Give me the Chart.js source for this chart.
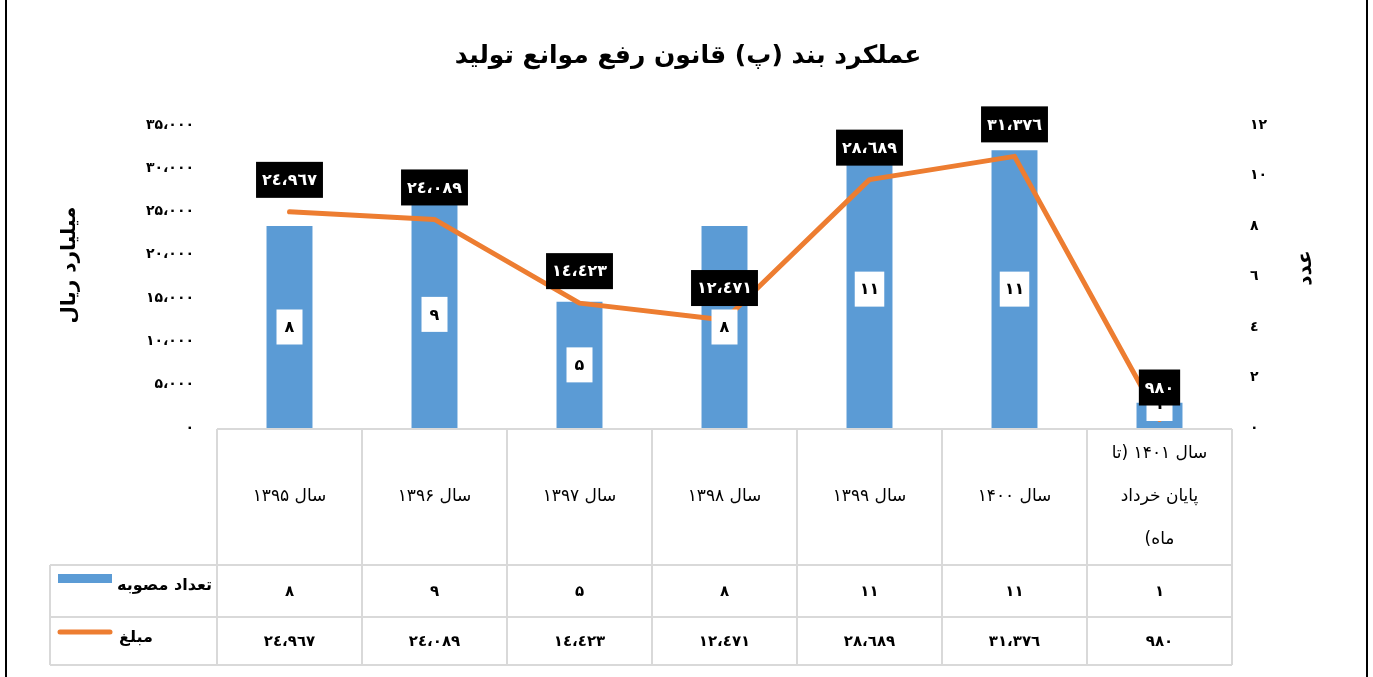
<!DOCTYPE html>
<html><head><meta charset="utf-8">
<script src="https://cdn.jsdelivr.net/npm/chart.js@4.4.0/dist/chart.umd.min.js"></script>
<style>html,body{margin:0;padding:0;background:#fff;overflow:hidden}#wrap{width:1373px;height:677px;position:relative}</style>
</head><body><div id="wrap"><canvas id="c" width="1373" height="677"></canvas></div>
<script>
const chartTitle = 'عملکرد بند (پ) قانون رفع موانع تولید';
const categories = ['سال ۱۳۹۵','سال ۱۳۹۶','سال ۱۳۹۷','سال ۱۳۹۸','سال ۱۳۹۹','سال ۱۴۰۰',['سال ۱۴۰۱ (تا','پایان خرداد','ماه)']];
const countLabel = 'تعداد مصوبه';
const amountLabel = 'مبلغ';
const counts = [8, 9, 5, 8, 11, 11, 1];
const amounts = [24967, 24089, 14423, 12471, 28689, 31376, 980];
const leftTickValues = [0, 5000, 10000, 15000, 20000, 25000, 30000, 35000];
const rightTickValues = [0, 2, 4, 6, 8, 10, 12];
const leftAxisTitle = 'میلیارد ریال';
const rightAxisTitle = 'عدد';

const DIG = ['۰','۱','۲','۳','٤','۵','٦','۷','۸','۹'];
function fa(n){
  const s = Math.round(n).toLocaleString('en-US').replace(/,/g,'،').replace(/\d/g, d => DIG[+d]);
  return '\u202D' + s + '\u202C';
}
const F = "'DejaVu Sans', sans-serif";
const BLUE = '#5B9BD5', ORANGE = '#ED7D31';

const decor = {
  id: 'decor',
  beforeDraw(chart){
    const c = chart.ctx; c.save();
    c.fillStyle = '#fff'; c.fillRect(0,0,chart.width,chart.height);
    c.fillStyle = '#000'; c.fillRect(5,0,2,chart.height); c.fillRect(1366,0,2,chart.height);
    c.restore();
  },
  afterDatasetsDraw(chart){
    const c = chart.ctx; c.save();
    c.direction = 'ltr';
    c.textAlign = 'center'; c.textBaseline = 'middle';
    c.font = 'bold 16px ' + F;
    const bm = chart.getDatasetMeta(0);
    bm.data.forEach((el, i) => {
      const t = fa(counts[i]);
      const w = Math.max(26, c.measureText(t).width + 10), h = 35;
      let cy = (el.y + el.base) / 2;
      if (cy + h/2 > el.base - 7) cy = el.base - 7 - h/2;
      c.fillStyle = '#fff'; c.fillRect(el.x - w/2, cy - h/2, w, h);
      c.fillStyle = '#000'; c.fillText(t, el.x, cy + 1);
    });
    const lm = chart.getDatasetMeta(1);
    lm.data.forEach((el, i) => {
      const t = fa(amounts[i]);
      const w = c.measureText(t).width + 12, h = 36;
      const cy = el.y - 32;
      c.fillStyle = '#000'; c.fillRect(el.x - w/2, cy - h/2, w, h);
      c.fillStyle = '#fff'; c.fillText(t, el.x, cy + 1);
    });
    c.restore();
  },
  afterDraw(chart){
    const c = chart.ctx; c.save();
    const xs = chart.scales.x, n = categories.length;
    const cw = (xs.right - xs.left) / n;
    const top = xs.top + 1, r1 = 565, r2 = 617, bot = 665, legL = 50;
    c.strokeStyle = '#d9d9d9'; c.lineWidth = 2;
    c.beginPath();
    c.moveTo(xs.left, top); c.lineTo(xs.right, top);
    [r1, r2, bot].forEach(y => { c.moveTo(legL, y); c.lineTo(xs.right, y); });
    for (let i = 0; i <= n; i++){ const x = xs.left + i*cw; c.moveTo(x, top); c.lineTo(x, bot); }
    c.moveTo(legL, r1); c.lineTo(legL, bot);
    c.stroke();
    // header labels
    c.direction = 'rtl'; c.textAlign = 'center'; c.textBaseline = 'middle';
    c.fillStyle = '#000';
    c.font = '17px ' + F;
    categories.forEach((lab, i) => {
      const x = xs.getPixelForValue(i);
      const lines = Array.isArray(lab) ? lab : [lab];
      const lh = 43, y0 = (top + r1)/2 - (lines.length - 1) * lh / 2;
      lines.forEach((ln, k) => c.fillText(ln, x, y0 + k*lh));
    });
    c.direction = 'ltr';
    c.font = 'bold 15px ' + F;
    counts.forEach((v, i) => c.fillText(fa(v), xs.getPixelForValue(i), (r1 + r2)/2 + 1));
    amounts.forEach((v, i) => c.fillText(fa(v), xs.getPixelForValue(i), (r2 + bot)/2 + 1));
    // legend keys
    c.fillStyle = BLUE; c.fillRect(58, 574, 54, 9);
    c.strokeStyle = ORANGE; c.lineWidth = 5; c.lineCap = 'round';
    c.beginPath(); c.moveTo(60, 632); c.lineTo(110, 632); c.stroke();
    c.direction = 'rtl'; c.textAlign = 'left'; c.fillStyle = '#000';
    c.font = 'bold 16px ' + F;
    c.fillText(countLabel, 117, 586);
    c.fillText(amountLabel, 119, 638);
    // title
    c.textAlign = 'center';
    c.font = 'bold 25px ' + F;
    c.fillText(chartTitle, 688, 56);
    // axis titles
    c.font = 'bold 20px ' + F;
    [[70, 265, leftAxisTitle], [1306, 268, rightAxisTitle]].forEach(([x, y, t]) => {
      c.save(); c.translate(x, y); c.rotate(-Math.PI/2); c.fillText(t, 0, 0); c.restore();
    });
    c.restore();
  }
};

new Chart(document.getElementById('c'), {
  type: 'bar',
  data: {
    labels: categories,
    datasets: [
      { type: 'bar', label: countLabel, data: counts, yAxisID: 'y1', backgroundColor: BLUE,
        barPercentage: 0.317, categoryPercentage: 1, order: 1 },
      { type: 'line', label: amountLabel, data: amounts, yAxisID: 'y', borderColor: ORANGE,
        borderWidth: 5, pointRadius: 0, tension: 0, borderCapStyle: 'round', borderJoinStyle: 'round', order: 0 }
    ]
  },
  options: {
    responsive: false, animation: false, devicePixelRatio: 1,
    layout: { padding: { top: 125, left: 0, right: 0, bottom: 0 } },
    plugins: { legend: { display: false }, tooltip: { enabled: false }, title: { display: false } },
    scales: {
      x: { display: true, ticks: { display: false }, grid: { display: false, drawTicks: false }, border: { display: false },
           afterFit: s => { s.height = 249; } },
      y: { position: 'left', min: 0, max: 35000,
           afterBuildTicks: s => { s.ticks = leftTickValues.map(v => ({ value: v })); },
           ticks: { callback: v => fa(v), font: { family: F, size: 14, weight: 'bold' }, color: '#000', padding: 23 },
           grid: { display: false, drawTicks: false }, border: { display: false },
           afterFit: s => { s.width = 217; } },
      y1: { position: 'right', min: 0, max: 12,
           afterBuildTicks: s => { s.ticks = rightTickValues.map(v => ({ value: v })); },
           ticks: { callback: v => fa(v), font: { family: F, size: 14, weight: 'bold' }, color: '#000', padding: 18 },
           grid: { display: false, drawTicks: false }, border: { display: false },
           afterFit: s => { s.width = 141; } }
    }
  },
  plugins: [decor]
});
</script></body></html>
